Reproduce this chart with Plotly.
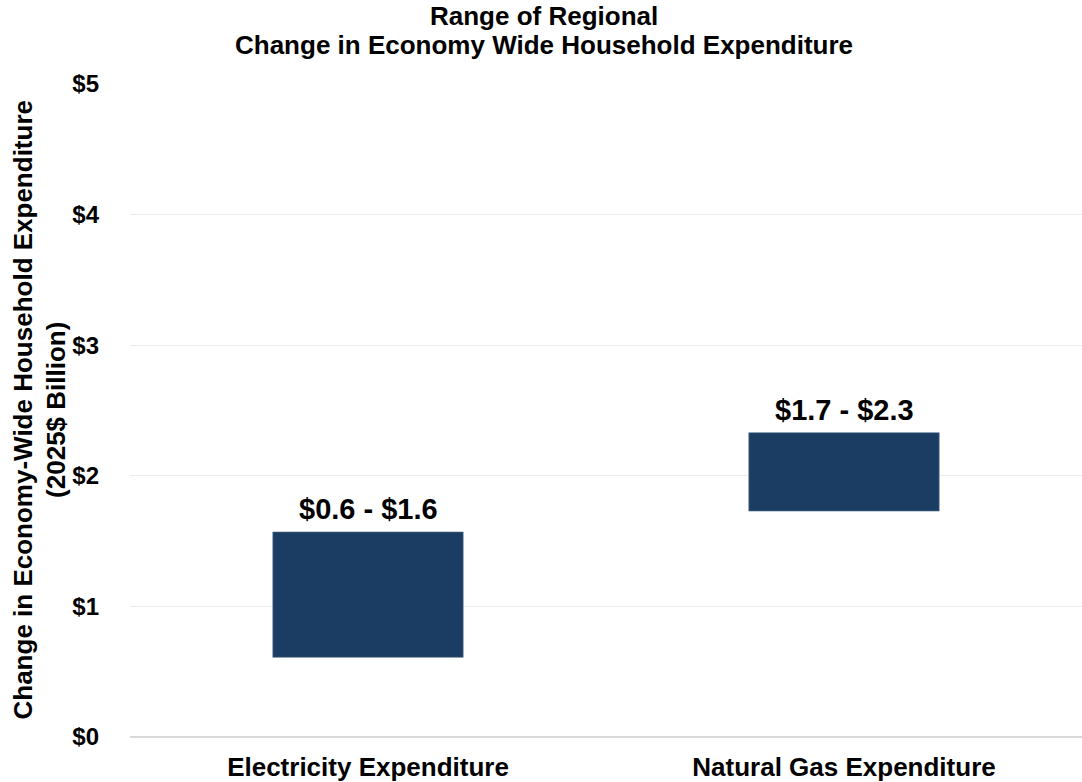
import plotly.graph_objects as go

categories = ["Electricity Expenditure", "Natural Gas Expenditure"]
low_values = [0.61, 1.73]
high_values = [1.57, 2.33]
range_labels = ["$0.6 - $1.6", "$1.7 - $2.3"]
y_tick_values = [0, 1, 2, 3, 4, 5]
y_tick_labels = ["$0", "$1", "$2", "$3", "$4", "$5"]
title_lines = ["Range of Regional", "Change in Economy Wide Household Expenditure"]

FONT = "Liberation Sans, Arial, sans-serif"
BAR_COLOR = "#1b3d63"

fig = go.Figure()
fig.add_trace(go.Bar(
    x=categories,
    y=[h - l for h, l in zip(high_values, low_values)],
    base=low_values,
    width=0.4,
    marker=dict(color=BAR_COLOR, line=dict(color="#5a7592", width=0.6)),
    hoverinfo="skip",
    showlegend=False,
))

for cat, hi, lab in zip(categories, high_values, range_labels):
    fig.add_annotation(
        x=cat, y=hi, text=f"<b>{lab}</b>", showarrow=False,
        yanchor="bottom", yshift=5,
        font=dict(family=FONT, size=29, color="black"),
    )

# two-line title
for line, shift in zip(title_lines, [68, 39]):
    fig.add_annotation(
        xref="paper", yref="paper", x=0.5, y=1, xshift=-62, yshift=shift,
        text=f"<b>{line}</b>", showarrow=False,
        xanchor="center", yanchor="middle",
        font=dict(family=FONT, size=26, color="black"),
    )

fig.add_annotation(
    xref="paper", yref="paper", x=0, y=0.5, xshift=-91,
    text="<b>Change in Economy-Wide Household Expenditure<br>(2025$ Billion)</b>",
    textangle=-90, showarrow=False, xanchor="center", yanchor="middle",
    font=dict(family=FONT, size=26, color="black"),
)

fig.update_layout(
    width=1082, height=782,
    margin=dict(l=130, r=0, t=84, b=45),
    paper_bgcolor="white", plot_bgcolor="white",
    xaxis=dict(
        showgrid=False, showline=False, zeroline=False,
        tickfont=dict(family=FONT, size=26, color="black"),
        tickprefix="<b>", ticksuffix="</b>",
        ticklabelstandoff=12,
    ),
    yaxis=dict(
        range=[0, 5], tickvals=y_tick_values,
        ticktext=[f"<b>{t}</b>" for t in y_tick_labels],
        showgrid=True, gridcolor="#ececec", gridwidth=1,
        zeroline=True, zerolinecolor="#d9d9d9", zerolinewidth=1.5,
        showline=False,
        tickfont=dict(family=FONT, size=24, color="black"),
        ticklabelstandoff=30,
    ),
)

fig.write_html("out.html", config={"displayModeBar": False},
               post_script="document.body.style.margin='0';")
